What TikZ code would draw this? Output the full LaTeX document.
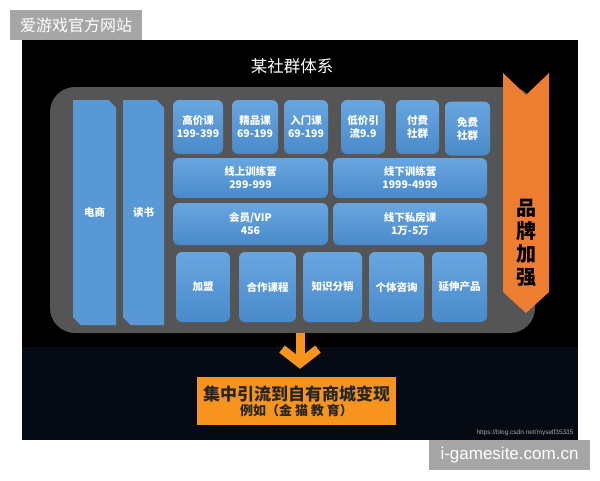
\documentclass[tikz,border=0pt]{standalone}
\usepackage{fontspec}
\setmainfont{Noto Sans CJK SC}
\newfontfamily\latinsans{Liberation Sans}
\usepackage{tikz}
\usetikzlibrary{arrows.meta,shapes.misc}
\definecolor{tiletop}{RGB}{104,166,224}
\definecolor{tilebot}{RGB}{74,138,202}
\definecolor{tileblue}{RGB}{88,152,212}
\definecolor{panelgray}{RGB}{85,85,85}
\definecolor{brand}{RGB}{237,125,49}
\definecolor{goal}{RGB}{247,148,29}
\definecolor{navy}{RGB}{5,10,19}
\definecolor{mark}{RGB}{166,166,166}

\begin{document}
\begin{tikzpicture}[x=1pt,y=-1pt,>=Stealth,
  tile/.style={top color=tiletop,bottom color=tilebot,rounded corners=6pt,inner sep=0pt,
    text=white,align=center,font=\bfseries\fontsize{10.5}{13}\selectfont},
  pillar/.style={fill=tileblue,chamfered rectangle,chamfered rectangle corners={north east,south west},
    chamfered rectangle xsep=4pt,inner sep=0pt,text=white,font=\bfseries\fontsize{10.5}{13}\selectfont}]
\useasboundingbox (0,0) rectangle (600,480);
\fill[white] (0,0) rectangle (600,480);
% backdrop
\fill[black] (22,40) rectangle (578,347);
\fill[navy] (22,347) rectangle (578,440);
\node[text=white,font=\fontsize{16.5}{18}\selectfont] (title) at (292,66) {某社群体系};
\node[fill=panelgray,rounded corners=25pt,minimum width=485,minimum height=246,inner sep=0pt] (panel) at (292.5,210) {};
% left pillars
\node[pillar,minimum width=43,minimum height=225] (dianshang) at (94.5,212.5) {电商};
\node[pillar,minimum width=41,minimum height=225] (dushu) at (143.5,212.5) {读书};
% top row
\node[tile,minimum width=50,minimum height=54] (gaojia) at (198,127) {高价课\\199-399};
\node[tile,minimum width=46,minimum height=54] (jingpin) at (255,127) {精品课\\69-199};
\node[tile,minimum width=44,minimum height=54] (rumen) at (306,127) {入门课\\69-199};
\node[tile,minimum width=44,minimum height=54] (dijia) at (363,127) {低价引\\流9.9};
\node[tile,minimum width=43,minimum height=54] (fufei) at (417.5,127) {付费\\社群};
\node[tile,minimum width=45,minimum height=54] (mianfei) at (467.5,128.5) {免费\\社群};
% camps and members
\node[tile,minimum width=155,minimum height=40] (xianshang) at (250.5,178) {线上训练营\\299-999};
\node[tile,minimum width=154,minimum height=40] (xianxia) at (410,178) {线下训练营\\1999-4999};
\node[tile,minimum width=155,minimum height=42] (huiyuan) at (250.5,224) {会员/VIP\\456};
\node[tile,minimum width=154,minimum height=42] (sifang) at (410,224) {线下私房课\\1万-5万};
% bottom row
\node[tile,minimum width=54,minimum height=70] (jiameng) at (203,287) {加盟};
\node[tile,minimum width=57,minimum height=70] (hezuo) at (267.5,287) {合作课程};
\node[tile,minimum width=59,minimum height=70] (fenxiao) at (332.5,287) {知识分销};
\node[tile,minimum width=55,minimum height=70] (zixun) at (396.5,287) {个体咨询};
\node[tile,minimum width=55,minimum height=70] (yanshen) at (459.5,287) {延伸产品};
% brand band
\fill[brand] (503,73) -- (526,95) -- (549,73) -- (549,292) -- (526,313) -- (503,292) -- cycle;
\node[text=black,align=center,font=\bfseries\fontsize{20}{23}\selectfont] (pinpai) at (526,243) {品\\牌\\加\\强};
% goal
\node[fill=goal,minimum width=199,minimum height=48,inner sep=0pt,align=center,text=black!85,font=\bfseries] (goalbox) at (296.5,401)
  {{\fontsize{17}{17}\selectfont 集中引流到自有商城变现}\\[1pt]{\fontsize{13}{13}\selectfont 例如（金 猫 教 育）}};
\draw[goal,line width=9pt,-{Straight Barb[length=14pt,width=36pt]},shorten >=8pt] ([xshift=3.5pt]goalbox.north |- panel.south) -- ([xshift=3.5pt]goalbox.north);
% watermarks
\node[text=gray!70,font=\latinsans\fontsize{6.5}{7}\selectfont,anchor=east] (csdn) at (577,433) {https://blog.csdn.net/myself35335};
\node[fill=mark,minimum width=132,minimum height=30,inner sep=0pt,text=white,font=\fontsize{16}{18}\selectfont] (topmark) at (76,25) {爱游戏官方网站};
\node[fill=mark,minimum width=161,minimum height=30,inner sep=0pt,text=white,font=\latinsans\fontsize{17}{19}\selectfont] (bottommark) at (509.5,455) {i-gamesite.com.cn};
\end{tikzpicture}
\end{document}
